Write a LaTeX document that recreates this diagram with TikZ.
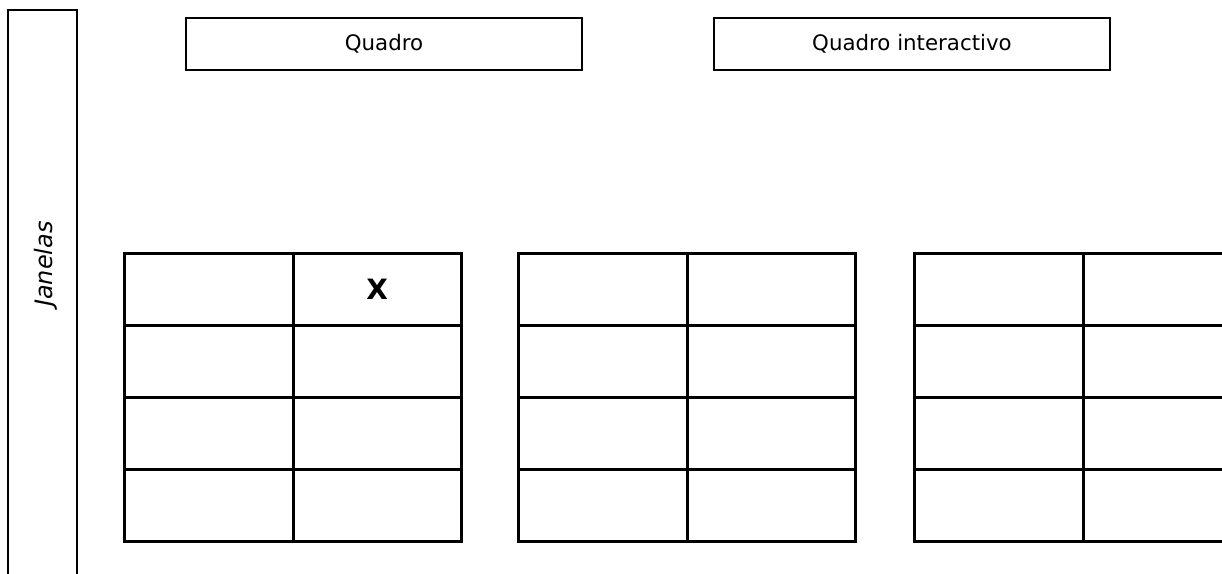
\documentclass[tikz,border=0pt]{standalone}
\usepackage{fontspec}
\setmainfont{DejaVu Sans}
\begin{document}
\begin{tikzpicture}[x=0.75pt,y=-0.75pt,
  labelbox/.style={draw,line width=1.5pt,inner sep=0pt,
    minimum width=297pt,minimum height=39pt,font=\fontsize{16}{19}\selectfont},
  seat/.style={draw,line width=2.25pt,inner sep=0pt,anchor=north west,
    minimum width=126.4pt,minimum height=54pt},
  crossmark/.style={font=\fontsize{21}{24}\selectfont\bfseries}]
\useasboundingbox[fill=white] (0,0) rectangle (1222,574);
\clip (0,0) rectangle (1222,574);

% window wall on the left
\node[draw,line width=1.5pt,inner sep=0pt,minimum width=51.4pt,
  minimum height=442.5pt] (wall) at (42.75,305) {};
\node[rotate=90,font=\fontsize{18}{21}\selectfont\itshape] (janelas) at (46,264) {Janelas};

% boards at the front
\node[labelbox] (quadro) at (384,44) {Quadro};
\node[labelbox] (qint) at (912,44) {Quadro interactivo};

% three blocks of desks, two columns by four rows
\foreach \g/\gx in {1/123,2/517,3/913}{
  \foreach \r in {1,...,4}{
    \foreach \c in {1,2}{
      \node[seat] (g\g-\r-\c) at ({\gx+(\c-1)*168.5},{252+(\r-1)*72}) {};
    }
  }
}
\node[crossmark] (x) at (g1-1-2.center) {X};
\end{tikzpicture}
\end{document}
